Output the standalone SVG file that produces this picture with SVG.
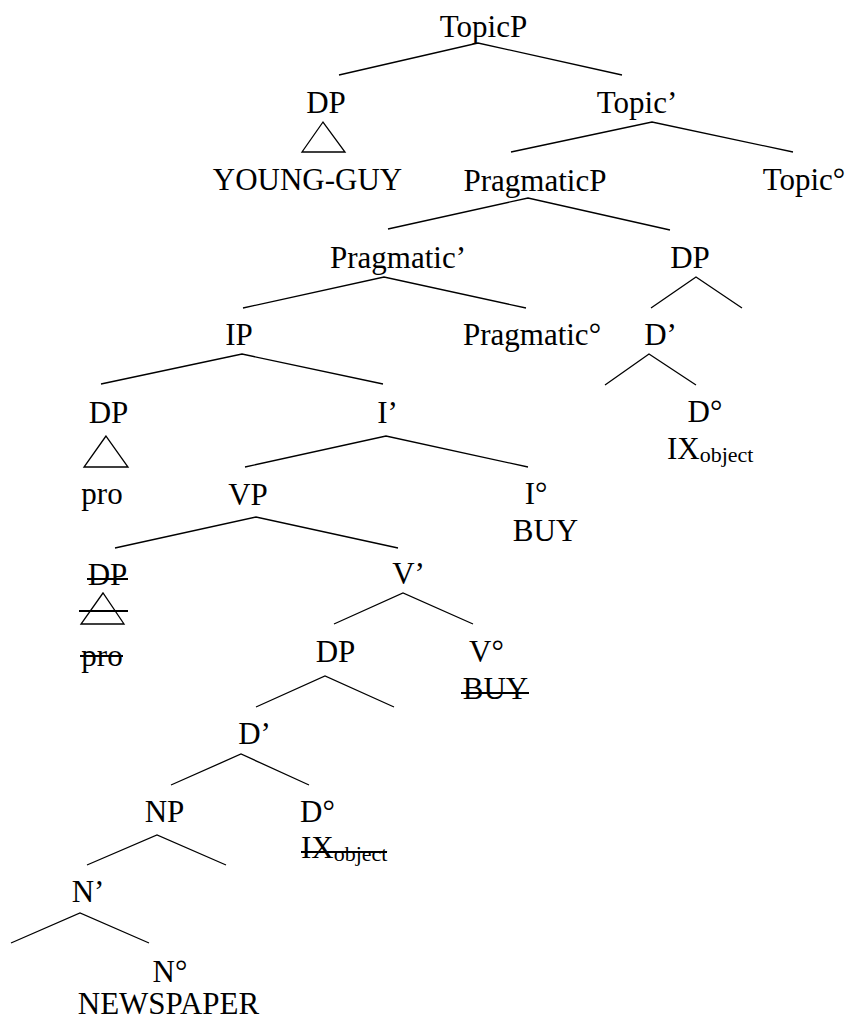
<svg xmlns="http://www.w3.org/2000/svg" width="849" height="1019" viewBox="0 0 849 1019">
  <style>
    text { font-family: "Liberation Serif", "DejaVu Serif", serif; font-size: 31px; fill: #000; }
    .c { text-anchor: middle; }
    .sub { font-size: 22px; }
    .edge { stroke: #000; stroke-width: 1.3; fill: none; }
    .tri { stroke: #000; stroke-width: 1.3; fill: none; stroke-linejoin: miter; }
    .strike { stroke: #000; stroke-width: 2; }
  </style>
  <rect width="849" height="1019" fill="#fff"/>

  <!-- branches of the tree -->
  <g id="connectors">
    <path class="edge" d="M339,75 L478,43 L622,75"/>
    <path class="edge" d="M511,152 L652,122 L793,152"/>
    <path class="edge" d="M388,229 L528,198 L670,230"/>
    <path class="edge" d="M243,308 L384,277 L526,308"/>
    <path class="edge" d="M651,308 L696,277 L742,308"/>
    <path class="edge" d="M101,384 L242,354 L383,384"/>
    <path class="edge" d="M605,385 L649,354 L696,385"/>
    <path class="edge" d="M245,467 L386,436 L528,467"/>
    <path class="edge" d="M115,548 L256,517 L398,548"/>
    <path class="edge" d="M334,624 L403,593 L473,624"/>
    <path class="edge" d="M256,707 L325,676 L394,707"/>
    <path class="edge" d="M171,785 L241,754 L309,785"/>
    <path class="edge" d="M87,865 L157,835 L226,865"/>
    <path class="edge" d="M11,943 L80,913 L149,943"/>
  </g>

  <g font-family="Liberation Serif, serif">
  <g id="topicP"><text class="c" x="483.5" y="37">TopicP</text></g>

  <g id="dp-subject">
    <text class="c" x="326" y="113">DP</text>
    <polygon class="tri" points="323,122 302,152 345,152"/>
    <text class="c" x="307.5" y="190">YOUNG-GUY</text>
  </g>

  <g id="topic-bar"><text class="c" x="637" y="113">Topic’</text></g>
  <g id="pragmaticP"><text class="c" x="535" y="191">PragmaticP</text></g>
  <g id="topic-head"><text class="c" x="804" y="190">Topic°</text></g>

  <g id="pragmatic-bar"><text class="c" x="398" y="268">Pragmatic’</text></g>
  <g id="dp-object"><text class="c" x="690" y="268">DP</text></g>

  <g id="ip"><text class="c" x="239" y="345">IP</text></g>
  <g id="pragmatic-head"><text class="c" x="532" y="345">Pragmatic°</text></g>
  <g id="d-bar-object"><text class="c" x="660.5" y="345">D’</text></g>

  <g id="d-head-object">
    <text class="c" x="705" y="422">D°</text>
    <text x="667" y="459">IX<tspan class="sub" dy="3">object</tspan></text>
  </g>

  <g id="dp-pro">
    <text class="c" x="108.5" y="423">DP</text>
    <polygon class="tri" points="106,436 84,467 128,467"/>
    <text class="c" x="102" y="504">pro</text>
  </g>

  <g id="i-bar"><text class="c" x="387.5" y="423">I’</text></g>
  <g id="vp"><text class="c" x="248" y="505">VP</text></g>

  <g id="i-head">
    <text class="c" x="536" y="504">I°</text>
    <text class="c" x="545.5" y="541">BUY</text>
  </g>

  <g id="dp-pro-trace">
    <text class="c" x="107.5" y="585">DP</text>
    <line class="strike" x1="87" y1="579" x2="128" y2="579"/>
    <polygon class="tri" points="103,593 81,624 124,624"/>
    <line class="strike" x1="79" y1="611" x2="128" y2="611"/>
    <text class="c" x="102" y="666">pro</text>
    <line class="strike" x1="80" y1="656" x2="123" y2="656"/>
  </g>

  <g id="v-bar"><text class="c" x="408.5" y="584">V’</text></g>
  <g id="dp-trace"><text class="c" x="335.5" y="662">DP</text></g>

  <g id="v-head">
    <text class="c" x="486.5" y="662">V°</text>
    <text class="c" x="495.5" y="699">BUY</text>
    <line class="strike" x1="461" y1="693" x2="529" y2="693"/>
  </g>

  <g id="d-bar"><text class="c" x="254.5" y="744">D’</text></g>
  <g id="np"><text class="c" x="164.5" y="822">NP</text></g>

  <g id="d-head">
    <text class="c" x="317.5" y="822">D°</text>
    <text x="301" y="858">IX<tspan class="sub" dy="3">object</tspan></text>
    <line class="strike" x1="301" y1="852" x2="387" y2="852"/>
  </g>

  <g id="n-bar"><text class="c" x="88" y="902">N’</text></g>

  <g id="n-head">
    <text class="c" x="170" y="982">N°</text>
    <text class="c" x="168.5" y="1014">NEWSPAPER</text>
  </g>
  </g>
</svg>
